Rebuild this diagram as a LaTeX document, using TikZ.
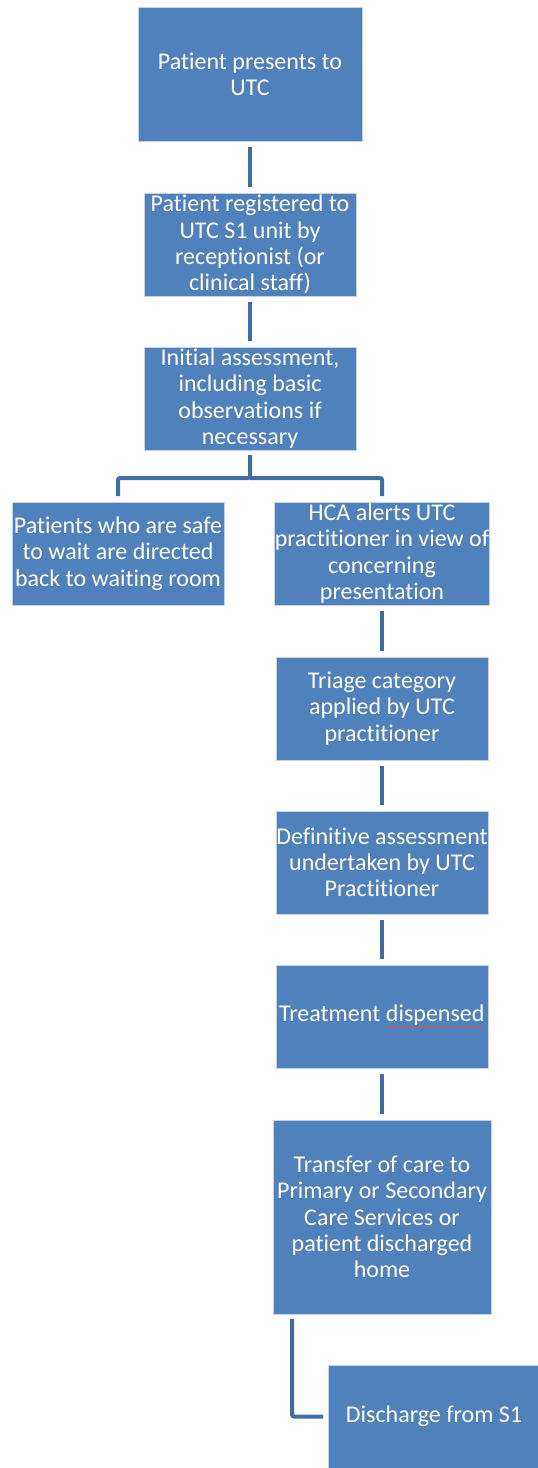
\documentclass[tikz,border=0pt]{standalone}
\usepackage{fontspec}
\setmainfont{Carlito}[Ligatures=NoCommon]
\usetikzlibrary{decorations.pathmorphing}
\definecolor{boxblue}{HTML}{4F81BD}
\definecolor{edgeblue}{HTML}{C3D3E8}
\definecolor{linkblue}{HTML}{3F6EA6}
\definecolor{spellred}{HTML}{D9534F}
\newcommand\redwave[1]{\tikz[baseline=(w.base),x=1pt,y=1pt]{\node[inner sep=0pt,outer sep=0pt,text=white,minimum width=0pt,minimum height=0pt,draw=none,fill=none] (w) {#1};
  \draw[spellred, line width=0.5pt, decorate, decoration={snake, amplitude=0.7pt, segment length=3pt}] ([yshift=-5pt]w.base west) -- ([yshift=-5pt]w.base east);}}
\tikzset{
  flowbox/.style={rectangle, fill=boxblue, draw=edgeblue, line width=0.8pt,
    text=white, align=center, inner sep=0pt, outer sep=0pt,
    font=\fontsize{24}{26.3}\selectfont},
  link/.style={draw=linkblue, line width=4pt},
}
\begin{document}
\begin{tikzpicture}[x=1pt,y=-1pt]
\useasboundingbox (0,0) rectangle (538,1468);
\node[flowbox, minimum width=224pt, minimum height=134pt] (b1) at (250,74) {Patient presents to\\UTC};
\node[flowbox, minimum width=212pt, minimum height=103pt] (b2) at (250,244.5) {Patient registered to\\UTC S1 unit by\\receptionist (or\\clinical staff)};
\node[flowbox, minimum width=212pt, minimum height=103pt] (b3) at (250,398.5) {Initial assessment,\\including basic\\observations if\\necessary};
\node[flowbox, minimum width=212pt, minimum height=103pt] (b4) at (118,553.5) {Patients who are safe\\to wait are directed\\back to waiting room};
\node[flowbox, minimum width=212pt, minimum height=103pt] (b5) at (382,553.5) {HCA alerts UTC\\practitioner in view of\\concerning\\presentation};
\node[flowbox, minimum width=212pt, minimum height=103pt] (b6) at (382,708.5) {Triage category\\applied by UTC\\practitioner};
\node[flowbox, minimum width=212pt, minimum height=103pt] (b7) at (382,862.5) {Definitive assessment\\undertaken by UTC\\Practitioner};
\node[flowbox, minimum width=212pt, minimum height=103pt] (b8) at (382,1016.5) {Treatment \redwave{dispensed}};
\node[flowbox, minimum width=218pt, minimum height=194pt] (b9) at (382,1217) {Transfer of care to\\Primary or Secondary\\Care Services or\\patient discharged\\home};
\node[flowbox, minimum width=212pt, minimum height=103pt] (b10) at (434,1416.5) {Discharge from S1};

\coordinate (bar) at (250,478);
\draw[link] ([yshift=-6pt]b1.south) -- ([yshift=6pt]b2.north);
\draw[link] ([yshift=-6pt]b2.south) -- ([yshift=6pt]b3.north);
\draw[link, rounded corners=2pt] ([yshift=-5pt]b3.south) -- (bar) -| ([yshift=6pt]b4.north);
\draw[link, rounded corners=2pt] (bar) -| ([yshift=6pt]b5.north);
\draw[link] ([yshift=-6pt]b5.south) -- ([yshift=6pt]b6.north);
\draw[link] ([yshift=-6pt]b6.south) -- ([yshift=6pt]b7.north);
\draw[link] ([yshift=-6pt]b7.south) -- ([yshift=6pt]b8.north);
\draw[link] ([yshift=-6pt]b8.south) -- ([yshift=6pt]b9.north);
\coordinate (elbowtop) at ([xshift=19pt,yshift=-5pt]b9.south west);
\draw[link, rounded corners=2pt] (elbowtop) |- ([xshift=-5pt]b10.west);
\end{tikzpicture}
\end{document}
